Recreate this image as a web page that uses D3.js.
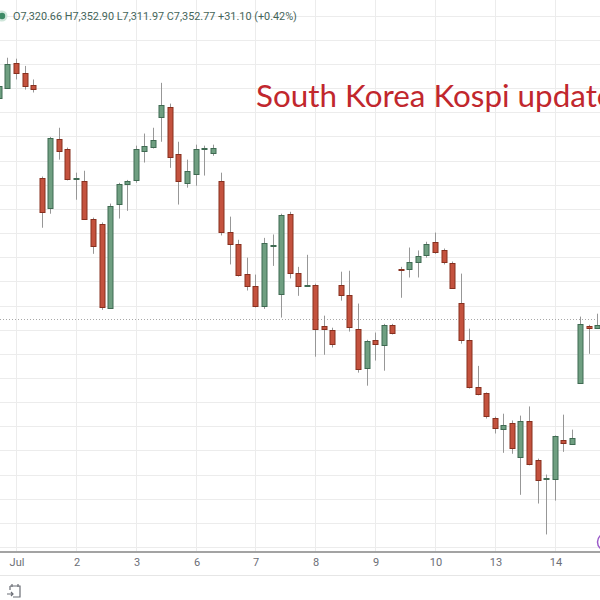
<!DOCTYPE html>
<html>
<head>
<meta charset="utf-8">
<script src="https://cdn.jsdelivr.net/npm/d3@7"></script>
<style>
   html, body { margin: 0; padding: 0; background: #fff; }
   svg { display: block; }
</style>
</head>
<body>
<svg id="chart" width="600" height="600"></svg>
<script>
// hourly bars, the first two belong to Jun 30
const dayLabels = [ 'Jul', '2', '3', '6', '7', '8', '9', '10', '13', '14' ];
const barsPerDay = 7;
const leadBars = 2;

const opens = [
   7780, 7801, 7853, 7832, 7807, 7615, 7553, 7695, 7673,
   7611, 7608, 7530, 7519, 7346, 7561, 7602,
   7608, 7671, 7679, 7741, 7762, 7664, 7604,
   7623, 7675, 7666, 7608, 7503, 7478, 7416,
   7391, 7350, 7474, 7375, 7540, 7418, 7391,
   7393, 7308, 7300, 7393, 7372, 7302, 7221,
   7279, 7269, 7310, 7426, 7426, 7441, 7455,
   7482, 7464, 7439, 7356, 7279, 7182, 7168,
   7118, 7093, 7106, 7035, 7110, 7031, 6990,
   6990, 7072, 7064, 7190, 7308, 7304
];
const highs = [
   7811, 7863, 7861, 7846, 7818, 7617, 7699, 7718, 7677,
   7625, 7629, 7532, 7522, 7561, 7604, 7610,
   7681, 7706, 7718, 7811, 7768, 7689, 7652,
   7683, 7681, 7683, 7625, 7534, 7486, 7449,
   7414, 7490, 7497, 7540, 7544, 7430, 7455,
   7395, 7329, 7304, 7420, 7422, 7354, 7279,
   7294, 7312, 7312, 7430, 7470, 7464, 7482,
   7501, 7468, 7441, 7416, 7302, 7225, 7170,
   7120, 7126, 7112, 7122, 7141, 7033, 7000,
   7081, 7124, 7093, 7327, 7310, 7333
];
const lows = [
   7776, 7799, 7818, 7797, 7791, 7511, 7540, 7652, 7609,
   7569, 7528, 7457, 7341, 7343, 7530, 7546,
   7604, 7646, 7675, 7689, 7635, 7559, 7594,
   7598, 7619, 7660, 7495, 7435, 7410, 7381,
   7346, 7343, 7432, 7325, 7406, 7370, 7389,
   7244, 7248, 7263, 7360, 7296, 7211, 7184,
   7236, 7215, 7290, 7366, 7408, 7408, 7449,
   7457, 7435, 7385, 7271, 7178, 7164, 7116,
   7085, 7045, 7043, 6958, 7019, 6940, 6876,
   6946, 7047, 7062, 7188, 7250, 7302
];
const closes = [
   7805, 7851, 7832, 7805, 7799, 7544, 7697, 7671, 7611,
   7613, 7530, 7474, 7348, 7557, 7602, 7608,
   7673, 7681, 7693, 7766, 7658, 7608, 7629,
   7675, 7677, 7677, 7503, 7478, 7414, 7391,
   7350, 7480, 7476, 7538, 7418, 7391, 7393,
   7302, 7302, 7271, 7372, 7306, 7219, 7277,
   7271, 7310, 7294, 7424, 7441, 7453, 7478,
   7461, 7439, 7387, 7279, 7182, 7168, 7120,
   7097, 7102, 7054, 7110, 7021, 6990, 6992,
   7079, 7066, 7076, 7312, 7304, 7310
];
const prevClose = 7321.67;
const gridPrices = d3.range( 6850, 7951, 50 );
const legendText = 'O7,320.66 H7,352.90 L7,311.97 C7,352.77 +31.10 (+0.42%)';
const titleText = 'South Korea Kospi update';

const W = 600;
const axisY = 552;
const UP = { fill: '#6f9f81', stroke: '#3f6a52' };
const DOWN = { fill: '#c4523e', stroke: '#87301f' };

const svg = d3.select( '#chart' );

const x = d3.scaleLinear()
   .domain( [ 0, opens.length - 1 ] )
   .range( [ -1.1, 597.4 ] );
const y = d3.scaleLinear()
   .domain( [ 6850, 7850 ] )
   .range( [ 547, 64 ] );

const dayTicks = dayLabels.map( ( _, k ) => leadBars + k * barsPerDay );

///////////////////////////////////////////////////////////////////////////////////////////////////////////////////////

// grid
const grid = svg.append( 'g' ).attr( 'stroke', '#ececec' ).attr( 'stroke-width', 1 );
grid.selectAll( '.h' ).data( gridPrices ).join( 'line' )
   .attr( 'x1', 0 ).attr( 'x2', W )
   .attr( 'y1', d => Math.round( y( d ) ) + 0.5 )
   .attr( 'y2', d => Math.round( y( d ) ) + 0.5 );
grid.selectAll( '.v' ).data( dayTicks ).join( 'line' )
   .attr( 'y1', 0 ).attr( 'y2', axisY )
   .attr( 'x1', d => Math.round( x( d ) ) + 0.5 )
   .attr( 'x2', d => Math.round( x( d ) ) + 0.5 );

svg.append( 'line' )
   .attr( 'x1', 0 ).attr( 'x2', W )
   .attr( 'y1', Math.round( y( prevClose ) ) + 0.5 )
   .attr( 'y2', Math.round( y( prevClose ) ) + 0.5 )
   .attr( 'stroke', '#a8a8a8' )
   .attr( 'stroke-dasharray', '1,2' );

///////////////////////////////////////////////////////////////////////////////////////////////////////////////////////

// candles
const bars = d3.range( opens.length ).map( i => ( {
   i, o: opens[ i ], h: highs[ i ], l: lows[ i ], c: closes[ i ]
} ) );
const bodyW = 5;
const candles = svg.append( 'g' ).selectAll( 'g' ).data( bars ).join( 'g' )
   .attr( 'transform', d => `translate(${Math.round( x( d.i ) )},0)` );

candles.append( 'line' )
   .attr( 'x1', 0.5 ).attr( 'x2', 0.5 )
   .attr( 'y1', d => y( d.h ) )
   .attr( 'y2', d => y( d.l ) )
   .attr( 'stroke', '#979797' );

candles.append( 'rect' )
   .attr( 'x', -( bodyW - 1 ) / 2 + 0.5 - 0.5 )
   .attr( 'y', d => Math.round( y( Math.max( d.o, d.c ) ) ) + 0.5 )
   .attr( 'width', bodyW )
   .attr( 'height', d => Math.max( 1, Math.round( Math.abs( y( d.o ) - y( d.c ) ) ) ) )
   .attr( 'fill', d => ( d.c >= d.o ? UP : DOWN ).fill )
   .attr( 'stroke', d => ( d.c >= d.o ? UP : DOWN ).stroke )
   .attr( 'stroke-width', 1 );

///////////////////////////////////////////////////////////////////////////////////////////////////////////////////////

// time axis
svg.append( 'rect' )
   .attr( 'x', 0 ).attr( 'y', axisY ).attr( 'width', W ).attr( 'height', 600 - axisY )
   .attr( 'fill', '#fff' );

const xAxis = d3.axisBottom( x )
   .tickValues( dayTicks )
   .tickFormat( ( d, k ) => dayLabels[ k ] )
   .tickSizeInner( 0 )
   .tickSizeOuter( 0 )
   .tickPadding( 6 );

const axisG = svg.append( 'g' )
   .attr( 'transform', `translate(0,${axisY})` )
   .call( xAxis );
axisG.select( '.domain' ).remove();
axisG.selectAll( 'text' )
   .attr( 'transform', d => `translate(${Math.round( x( d ) ) + 0.5 - x( d )},0)` )
   .attr( 'fill', '#6b6e76' )
   .style( 'font-family', 'Roboto, sans-serif' )
   .style( 'font-size', '11px' );

svg.append( 'line' )
   .attr( 'x1', 0 ).attr( 'x2', W )
   .attr( 'y1', axisY ).attr( 'y2', axisY )
   .attr( 'stroke', '#a3a3a3' ).attr( 'stroke-width', 2 );
svg.append( 'line' )
   .attr( 'x1', 0 ).attr( 'x2', W )
   .attr( 'y1', 575.5 ).attr( 'y2', 575.5 )
   .attr( 'stroke', '#e6e6e6' );

// go-to-date icon
const icon = svg.append( 'g' )
   .attr( 'transform', 'translate(7,584)' )
   .attr( 'fill', 'none' )
   .attr( 'stroke', '#6b6e76' )
   .attr( 'stroke-width', 1.2 );
icon.append( 'path' ).attr( 'd', 'M3,2 H13 V13 H6 M3,2 V6 M5,0 V3 M11,0 V3' );
icon.append( 'path' ).attr( 'd', 'M0,10 H6 M4,8 L6,10 L4,12' );

// replay marker cut by the right edge
svg.append( 'circle' )
   .attr( 'cx', 606 ).attr( 'cy', 542 ).attr( 'r', 8.5 )
   .attr( 'fill', '#fff' )
   .attr( 'stroke', '#9b59c9' ).attr( 'stroke-width', 1.5 );

///////////////////////////////////////////////////////////////////////////////////////////////////////////////////////

// legend and title
svg.append( 'circle' )
   .attr( 'cx', 2 ).attr( 'cy', 16 ).attr( 'r', 5.5 )
   .attr( 'fill', '#cfe6da' );
svg.append( 'circle' )
   .attr( 'cx', 2 ).attr( 'cy', 16 ).attr( 'r', 3.2 )
   .attr( 'fill', '#3d8a66' );

const legend = svg.append( 'text' )
   .attr( 'x', 13 ).attr( 'y', 20 )
   .attr( 'fill', '#45655a' )
   .style( 'font-family', 'Roboto, sans-serif' )
   .style( 'font-size', '11px' )
   .text( legendText );
fitWidth( legend, legendText, 284 );

const title = svg.append( 'text' )
   .attr( 'x', 256 ).attr( 'y', 107 )
   .attr( 'fill', '#c1272d' )
   .style( 'font-family', 'Lato, sans-serif' )
   .style( 'font-size', '30px' )
   .text( titleText );
fitWidth( title, titleText.slice( 0, -1 ), 341 );

/**
 * Scales the font size of `node` so that `sample` rendered with it is `width` pixels wide.
 */
function fitWidth( node, sample, width ) {
   const size = parseFloat( node.style( 'font-size' ) );
   const probe = svg.append( 'text' )
      .style( 'font-family', node.style( 'font-family' ) )
      .style( 'font-size', size + 'px' )
      .text( sample );
   const w = probe.node().getComputedTextLength();
   probe.remove();
   node.style( 'font-size', ( size * width / w ).toFixed( 2 ) + 'px' );
}
</script>
</body>
</html>
